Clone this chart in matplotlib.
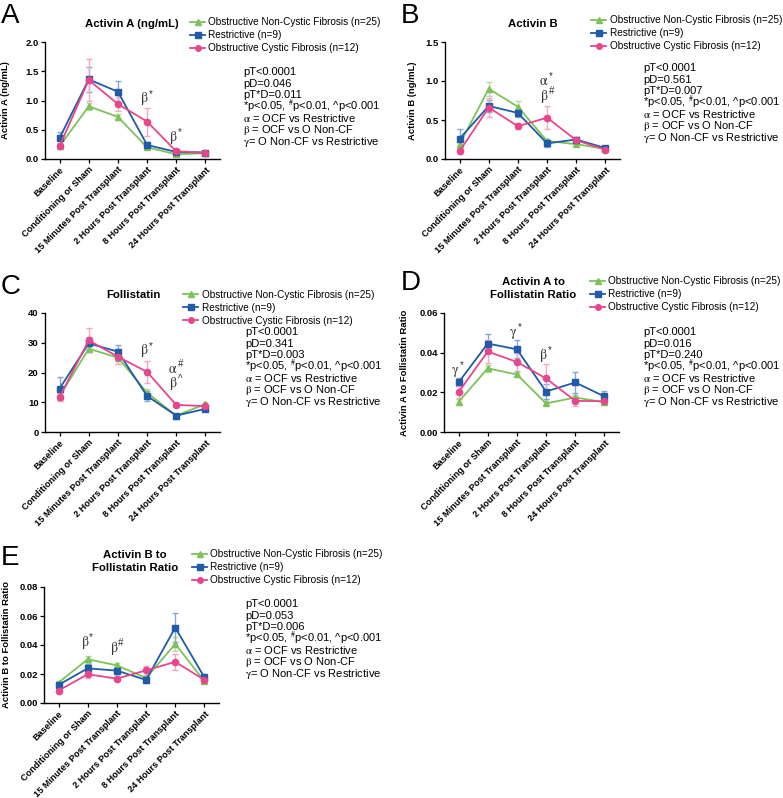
import matplotlib
matplotlib.use("Agg")
import matplotlib.pyplot as plt
from matplotlib.lines import Line2D
import numpy as np

plt.rcParams['font.family'] = ['Liberation Sans', 'DejaVu Sans']
plt.rcParams['mathtext.fontset'] = 'stix'

categories = ['Baseline', 'Conditioning or Sham', '15 Minutes Post Transplant',
              '2 Hours Post Transplant', '8 Hours Post Transplant', '24 Hours Post Transplant']
groups = ['Obstructive Non-Cystic Fibrosis (n=25)', 'Restrictive (n=9)',
          'Obstructive Cystic Fibrosis (n=12)']

# Panel A: Activin A (ng/mL)
a_oncf = [0.22, 0.90, 0.72, 0.20, 0.08, 0.10]
a_oncf_err = [0.04, 0.06, 0.05, 0.03, 0.02, 0.02]
a_rest = [0.36, 1.36, 1.15, 0.24, 0.12, 0.11]
a_rest_err = [0.11, 0.22, 0.19, 0.05, 0.02, 0.02]
a_ocf = [0.22, 1.35, 0.94, 0.64, 0.13, 0.11]
a_ocf_err = [0.05, 0.36, 0.12, 0.24, 0.03, 0.02]

# Panel B: Activin B
b_oncf = [0.19, 0.90, 0.67, 0.23, 0.19, 0.13]
b_oncf_err = [0.05, 0.09, 0.08, 0.03, 0.02, 0.02]
b_rest = [0.26, 0.68, 0.59, 0.20, 0.25, 0.14]
b_rest_err = [0.13, 0.08, 0.05, 0.05, 0.03, 0.02]
b_ocf = [0.10, 0.66, 0.42, 0.53, 0.24, 0.12]
b_ocf_err = [0.04, 0.12, 0.04, 0.15, 0.03, 0.02]

# Panel C: Follistatin
c_oncf = [12.0, 28.0, 25.0, 13.2, 5.5, 9.4]
c_oncf_err = [1.0, 1.2, 2.0, 1.2, 0.5, 0.8]
c_rest = [14.6, 29.8, 27.0, 12.1, 5.5, 7.8]
c_rest_err = [4.0, 2.0, 2.4, 1.8, 0.5, 0.8]
c_ocf = [11.8, 30.8, 25.3, 20.2, 9.1, 8.7]
c_ocf_err = [1.3, 4.0, 2.6, 3.8, 0.8, 0.7]

# Panel D: Activin A to Follistatin Ratio
d_oncf = [0.0152, 0.0321, 0.0290, 0.0144, 0.0174, 0.0150]
d_oncf_err = [0.0015, 0.0017, 0.0015, 0.0010, 0.0015, 0.0013]
d_rest = [0.0250, 0.0446, 0.0417, 0.0204, 0.0250, 0.0179]
d_rest_err = [0.0020, 0.0047, 0.0046, 0.0040, 0.0055, 0.0026]
d_ocf = [0.0201, 0.0406, 0.0353, 0.0270, 0.0157, 0.0155]
d_ocf_err = [0.0030, 0.0060, 0.0045, 0.0071, 0.0025, 0.0015]

# Panel E: Activin B to Follistatin Ratio
e_oncf = [0.0141, 0.0302, 0.0259, 0.0173, 0.0407, 0.0150]
e_oncf_err = [0.0012, 0.0025, 0.0015, 0.0015, 0.0050, 0.0015]
e_rest = [0.0125, 0.0239, 0.0223, 0.0159, 0.0520, 0.0177]
e_rest_err = [0.0020, 0.0028, 0.0020, 0.0020, 0.0098, 0.0020]
e_ocf = [0.0086, 0.0198, 0.0168, 0.0225, 0.0284, 0.0159]
e_ocf_err = [0.0020, 0.0025, 0.0012, 0.0030, 0.0055, 0.0015]

stats_a = ['pT<0.0001', 'pD=0.046', 'pT*D=0.011']
stats_b = ['pT<0.0001', 'pD=0.561', 'pT*D=0.007']
stats_c = ['pT<0.0001', 'pD=0.341', 'pT*D=0.003']
stats_d = ['pT<0.0001', 'pD=0.016', 'pT*D=0.240']
stats_e = ['pT<0.0001', 'pD=0.053', 'pT*D=0.006']
legend_lines = ['*p<0.05, $^{\\#}$p<0.01, ^p<0.001',
                '$\\mathrm{\\alpha}$ = OCF vs Restrictive',
                '$\\mathrm{\\beta}$ = OCF vs O Non-CF',
                '$\\mathrm{\\gamma}$= O Non-CF vs Restrictive']

annot_a = [(3, 1.03, 'β', '*'), (4, 0.37, 'β', '*')]
annot_b = [(3, 1.00, 'α', '*'), (3, 0.81, 'β', '#')]
annot_c = [(3, 27.4, 'β', '*'), (4, 21.2, 'α', '#'), (4, 16.2, 'β', '^')]
annot_d = [(0, 0.0313, 'γ', '*'), (2, 0.0505, 'γ', '*'), (3, 0.0389, 'β', '*')]
annot_e = [(1, 0.0418, 'β', '*'), (2, 0.0380, 'β', '#')]

colors = ['#7dc25a', '#1f5ba6', '#e6478c']
err_colors = ['#b7dca3', '#86a8d6', '#f2a6c8']
markers = ['^', 's', 'o']

W, H = 783, 798
fig = plt.figure(figsize=(W / 100, H / 100), dpi=100)


def rect(l, r, t, b):
    return [l / W, 1 - b / H, (r - l) / W, (b - t) / H]


def fx(x):
    return x / W


def fy(y):
    return 1 - y / H


def panel(box, series, ylim, yticks, yfmt, ylabel, ylabel_x, title_lines, title_x, title_y,
          letter, letter_xy, legend_xy, stats, stats_xy, annots):
    ax = fig.add_axes(rect(*box))
    x = np.arange(len(categories))
    for i, (vals, errs) in enumerate(series):
        ax.errorbar(x, vals, yerr=errs, fmt='none', ecolor=err_colors[i], elinewidth=1.0,
                    capsize=2.5, capthick=1.0, zorder=2 + i)
        ax.plot(x, vals, color=colors[i], marker=markers[i], markersize=4.5, linewidth=1.3,
                zorder=5 + i)
    ax.set_xlim(-0.5, len(categories) - 0.5)
    ax.set_ylim(*ylim)
    ax.set_yticks(yticks)
    ax.set_yticklabels([yfmt % v for v in yticks], fontsize=6.8, fontweight='bold')
    ax.set_xticks(x)
    ax.set_xticklabels(categories, rotation=45, ha='right', rotation_mode='anchor',
                       fontsize=6.6, fontweight='bold')
    for s in ['top', 'right']:
        ax.spines[s].set_visible(False)
    for s in ['left', 'bottom']:
        ax.spines[s].set_linewidth(1.0)
    ax.tick_params(direction='out', length=3, width=0.9, pad=1.5)
    if ylabel:
        ax.set_ylabel(ylabel, fontsize=6.8, fontweight='bold')
        ax.yaxis.set_label_coords(ylabel_x, 0.5)
    for k, t in enumerate(title_lines):
        fig.text(fx(title_x), fy(title_y + 13 * k), t, ha='center', va='center',
                 fontsize=8.2, fontweight='bold')
    fig.text(fx(letter_xy[0]), fy(letter_xy[1]), letter, ha='left', va='top', fontsize=20)
    handles = [Line2D([0], [0], color=colors[i], marker=markers[i], markersize=4,
                      linewidth=1.3) for i in range(3)]
    ax.legend(handles, groups, loc='upper left', bbox_to_anchor=(fx(legend_xy[0]), fy(legend_xy[1])),
              bbox_transform=fig.transFigure, frameon=False, fontsize=7.2, handlelength=1.5,
              handletextpad=0.35, labelspacing=0.3, borderpad=0, borderaxespad=0)
    lines = stats + legend_lines
    for k, t in enumerate(lines):
        fig.text(fx(stats_xy[0]), fy(stats_xy[1] + 11.6 * k), t, ha='left', va='center',
                 fontsize=8.0)
    for (xi, yv, g, sup) in annots:
        ax.annotate(g, (xi, yv), xytext=(-2.5, 0), textcoords='offset points', ha='center',
                    va='center', fontsize=10, family='STIXGeneral', color='#333333')
        ax.annotate(sup, (xi, yv), xytext=(1, 3.5), textcoords='offset points', ha='left',
                    va='center', fontsize=7, color='#333333')
    return ax


panel((45, 220, 42, 159), [(a_oncf, a_oncf_err), (a_rest, a_rest_err), (a_ocf, a_ocf_err)],
      (0, 2.0), [0.0, 0.5, 1.0, 1.5, 2.0], '%.1f', 'Activin A (ng/mL)', -0.2,
      ['Activin A (ng/mL)'], 132, 24, 'A', (1, 3), (190, 17), stats_a, (243, 72), annot_a)

panel((445, 620, 42, 159), [(b_oncf, b_oncf_err), (b_rest, b_rest_err), (b_ocf, b_ocf_err)],
      (0, 1.5), [0.0, 0.5, 1.0, 1.5], '%.1f', 'Activin B (ng/mL)', -0.16,
      ['Activin B'], 533, 24, 'B', (401, 3), (591, 15), stats_b, (643, 68), annot_b)

panel((45, 220, 313, 432), [(c_oncf, c_oncf_err), (c_rest, c_rest_err), (c_ocf, c_ocf_err)],
      (0, 40), [0, 10, 20, 30, 40], '%d', None, 0,
      ['Follistatin'], 133, 295, 'C', (1, 274), (183, 290), stats_c, (245, 332), annot_c)

panel((444, 619, 313, 432), [(d_oncf, d_oncf_err), (d_rest, d_rest_err), (d_ocf, d_ocf_err)],
      (0, 0.06), [0.0, 0.02, 0.04, 0.06], '%.2f', 'Activin A to Follistatin Ratio', -0.2,
      ['Activin A to', 'Follistatin Ratio'], 533, 282, 'D', (401, 270), (590, 276), stats_d,
      (643, 332), annot_d)

panel((44, 219, 587, 703), [(e_oncf, e_oncf_err), (e_rest, e_rest_err), (e_ocf, e_ocf_err)],
      (0, 0.08), [0.0, 0.02, 0.04, 0.06, 0.08], '%.2f', 'Activin B to Follistatin Ratio', -0.19,
      ['Activin B to', 'Follistatin Ratio'], 135, 555, 'E', (1, 545), (192, 549), stats_e,
      (245, 604), annot_e)

fig.savefig('out.png', dpi=100, facecolor='white')
